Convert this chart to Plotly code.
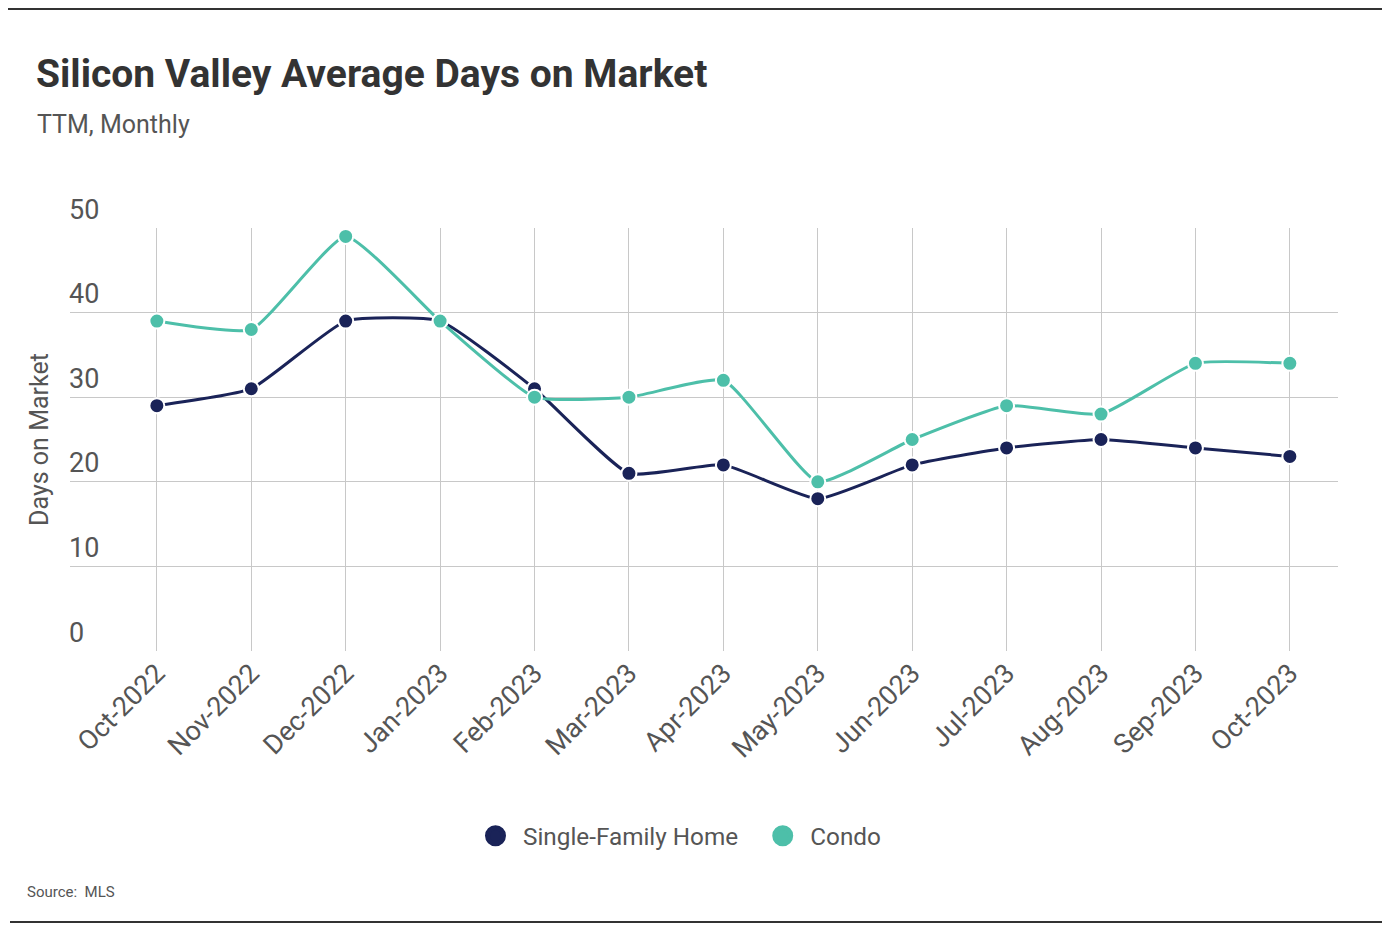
import plotly.graph_objects as go

months = ["Oct-2022", "Nov-2022", "Dec-2022", "Jan-2023", "Feb-2023", "Mar-2023", "Apr-2023",
          "May-2023", "Jun-2023", "Jul-2023", "Aug-2023", "Sep-2023", "Oct-2023"]
single_family = [29, 31, 39, 39, 31, 21, 22, 18, 22, 24, 25, 24, 23]
condo = [39, 38, 49, 39, 30, 30, 32, 20, 25, 29, 28, 34, 34]
y_ticks = [0, 10, 20, 30, 40, 50]
series_names = ["Single-Family Home", "Condo"]

NAVY = "#1a2358"
TEAL = "#4dbfa9"
FONT = "Roboto, sans-serif"

# page body has an 8px margin; figure placed at (8,8)
W, H = 1380, 920
OFF = 8
PL, PR, PT, PB = 70 - OFF, 1338 - OFF, 228 - OFF, 651 - OFF   # plot area in figure px


def px(xref_px):
    return (xref_px - 70) / 1268


def py(yref_px):
    return (651 - yref_px) / 423


fig = go.Figure()
for name, vals, col in [(series_names[0], single_family, NAVY), (series_names[1], condo, TEAL)]:
    fig.add_trace(go.Scatter(
        x=months, y=vals, mode="lines+markers", name=name, showlegend=False,
        line=dict(color=col, width=3, shape="spline", smoothing=0.45),
        marker=dict(color=col, size=15, line=dict(color="white", width=2)),
    ))
for name, col in [(series_names[0] + "\u00a0\u00a0", NAVY), (series_names[1], TEAL)]:
    fig.add_trace(go.Scatter(
        x=[None], y=[None], mode="markers", name=name, showlegend=True,
        marker=dict(color=col, size=16, line=dict(color=col, width=5)),
    ))

fig.update_layout(
    width=W, height=H,
    paper_bgcolor="white", plot_bgcolor="white",
    margin=dict(l=PL, r=W - PR, t=PT, b=H - PB, autoexpand=False),
    font=dict(family=FONT, color="#555555", size=26),
    title=dict(text="<b>Silicon Valley Average Days on Market</b>",
               x=(36 - OFF) / W, xanchor="left", xref="container",
               y=1 - (73 - OFF) / H, yanchor="middle", yref="container",
               font=dict(family=FONT, size=39, color="#333333")),
    showlegend=True,
    legend=dict(orientation="h", x=px(468), xanchor="left", y=py(836), yanchor="middle",
                font=dict(family=FONT, size=24.3, color="#555555"),
                itemwidth=45, bgcolor="rgba(0,0,0,0)"),
)

fig.update_xaxes(
    type="category", range=[-0.92, 12.51],
    showgrid=True, gridcolor="#c8c8c8", gridwidth=1.3,
    tickangle=-45, tickfont=dict(size=27, color="#555555"),
    showline=False, ticks="", zeroline=False,
)
fig.update_yaxes(
    range=[0, 50], tickvals=y_ticks,
    showgrid=True, gridcolor="#c8c8c8", gridwidth=1.3,
    ticklabelposition="inside top", ticklabeloverflow="allow", ticklabelstandoff=-4,
    tickfont=dict(size=27, color="#555555"),
    title=dict(text="Days on Market", font=dict(size=25, color="#555555"), standoff=13),
    showline=False, ticks="", zeroline=False,
)

fig.add_annotation(text="TTM, Monthly", xref="paper", yref="paper",
                   x=px(35), y=py(125), xanchor="left", yanchor="middle",
                   showarrow=False, font=dict(family=FONT, size=25, color="#555555"))
fig.add_annotation(text="Source:  MLS", xref="paper", yref="paper",
                   x=px(25), y=py(892), xanchor="left", yanchor="middle",
                   showarrow=False, font=dict(family=FONT, size=15, color="#555555"))

for ypx, x0, x1 in [(9, 8, 1382), (922, 10, 1382)]:
    fig.add_shape(type="line", xref="paper", yref="paper",
                  x0=px(x0), x1=px(x1), y0=py(ypx), y1=py(ypx),
                  line=dict(color="#333333", width=2))

fig.write_html("out.html")
